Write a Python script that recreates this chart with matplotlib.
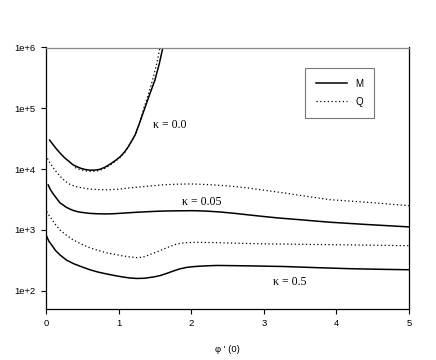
import matplotlib
matplotlib.use("Agg")
import matplotlib.pyplot as plt
from matplotlib.lines import Line2D

# kappa = 0.0
x_k0_M = [0.05, 0.10, 0.15, 0.20, 0.26, 0.32, 0.37, 0.43, 0.49, 0.55, 0.61, 0.68, 0.74, 0.81, 0.88, 0.95, 1.02, 1.08, 1.13, 1.18, 1.23, 1.29, 1.36, 1.43, 1.50, 1.56, 1.61]
y_k0_M = [30000, 25000, 21000, 18000, 15200, 13300, 11800, 10900, 10200, 9800, 9600, 9650, 9900, 10700, 12000, 13700, 15900, 19000, 23000, 29000, 37000, 58000, 100000, 172000, 290000, 540000, 1000000]
x_k0_Q = [0.40, 0.45, 0.50, 0.55, 0.61, 0.68, 0.74, 0.81, 0.88, 0.95, 1.02, 1.08, 1.13, 1.18, 1.23, 1.29, 1.35, 1.42, 1.48, 1.53, 1.57]
y_k0_Q = [10600, 10000, 9600, 9350, 9200, 9250, 9500, 10300, 11500, 13300, 15500, 18500, 23000, 29000, 37000, 58000, 102000, 185000, 330000, 580000, 1000000]

# kappa = 0.05
x_k005_M = [0.03, 0.06, 0.10, 0.15, 0.19, 0.24, 0.28, 0.33, 0.37, 0.43, 0.48, 0.6, 0.72, 0.83, 0.95, 1.1, 1.25, 1.43, 1.6, 1.8, 2.03, 2.2, 2.4, 2.6, 2.8, 3.0, 3.2, 3.5, 3.9, 4.4, 5.0]
y_k005_M = [5500, 4600, 3900, 3250, 2800, 2550, 2350, 2200, 2100, 2000, 1950, 1870, 1840, 1830, 1850, 1900, 1950, 2000, 2040, 2060, 2070, 2040, 1970, 1870, 1760, 1660, 1570, 1470, 1340, 1230, 1120]
x_k005_Q = [0.02, 0.05, 0.10, 0.15, 0.20, 0.26, 0.32, 0.40, 0.50, 0.6, 0.72, 0.84, 1.02, 1.15, 1.3, 1.45, 1.6, 1.8, 2.0, 2.25, 2.5, 2.75, 3.0, 3.25, 3.5, 3.9, 4.5, 5.0]
y_k005_Q = [15000, 13000, 10500, 8800, 7500, 6400, 5700, 5200, 4900, 4700, 4600, 4560, 4700, 4900, 5100, 5300, 5500, 5650, 5700, 5550, 5300, 4950, 4500, 4100, 3700, 3150, 2800, 2500]

# kappa = 0.5
x_k05_M = [0.01, 0.04, 0.08, 0.13, 0.19, 0.28, 0.38, 0.5, 0.61, 0.72, 0.84, 0.95, 1.06, 1.15, 1.25, 1.35, 1.48, 1.57, 1.66, 1.75, 1.84, 1.94, 2.05, 2.2, 2.35, 2.6, 2.8, 3.27, 3.7, 4.19, 4.6, 5.0]
y_k05_M = [780, 650, 560, 460, 390, 320, 278, 245, 220, 202, 188, 177, 168, 162, 159, 160, 168, 177, 192, 210, 228, 242, 250, 256, 260, 258, 256, 250, 240, 230, 225, 221]
x_k05_Q = [0.01, 0.04, 0.08, 0.13, 0.19, 0.28, 0.37, 0.48, 0.6, 0.72, 0.83, 0.95, 1.05, 1.15, 1.25, 1.33, 1.4, 1.47, 1.54, 1.62, 1.7, 1.8, 1.89, 2.0, 2.1, 2.26, 2.6, 3.0, 3.5, 4.0, 4.5, 5.0]
y_k05_Q = [2000, 1750, 1500, 1230, 1000, 820, 690, 590, 510, 460, 420, 395, 375, 360, 350, 355, 380, 410, 440, 485, 530, 585, 610, 622, 625, 620, 605, 590, 580, 570, 560, 550]

kappa_labels = ["κ = 0.0", "κ = 0.05", "κ = 0.5"]
legend_labels = ["M", "Q"]
x_ticks = [0, 1, 2, 3, 4, 5]
y_ticks = [1e2, 1e3, 1e4, 1e5, 1e6]
y_tick_labels = ["1e+2", "1e+3", "1e+4", "1e+5", "1e+6"]

fig = plt.figure(figsize=(4.36, 3.60), dpi=100)
ax = fig.add_axes([46/436, 1 - 309/360, 363/436, 261.5/360])

lw = 1.1
dot = (0, (1, 2))
ax.plot(x_k0_M, y_k0_M, color="black", lw=lw)
ax.plot(x_k0_Q, y_k0_Q, color="black", lw=0.9, ls=dot)
ax.plot(x_k005_M, y_k005_M, color="black", lw=lw)
ax.plot(x_k005_Q, y_k005_Q, color="black", lw=0.9, ls=dot)
ax.plot(x_k05_M, y_k05_M, color="black", lw=lw)
ax.plot(x_k05_Q, y_k05_Q, color="black", lw=0.9, ls=dot)

ax.set_yscale("log")
ax.set_xlim(0, 5)
ax.set_ylim(50, 1e6)
ax.set_xticks(x_ticks)
ax.set_xticklabels([str(t) for t in x_ticks])
ax.set_yticks(y_ticks)
ax.set_yticklabels(y_tick_labels)
ax.minorticks_off()
ax.tick_params(axis="both", direction="out", length=3.5, width=0.8, labelsize=6.8, pad=4)
for lab in ax.get_xticklabels() + ax.get_yticklabels():
    lab.set_family("Liberation Sans")

ax.spines["top"].set_color("#888888")
for s in ["left", "bottom", "right"]:
    ax.spines[s].set_color("black")
for s in ax.spines.values():
    s.set_linewidth(0.9)

ax.set_xlabel("φ ' (0)", fontsize=6.8, family="Liberation Sans", labelpad=12)

tkw = dict(fontsize=8.5, family="Liberation Serif", ha="center", va="center")
ax.text(1.71, 10**(2 + (291 - 125) / 60.8), kappa_labels[0], **tkw)
ax.text(2.15, 10**(2 + (291 - 202) / 60.8), kappa_labels[1], **tkw)
ax.text(3.36, 10**(2 + (291 - 282) / 60.8), kappa_labels[2], **tkw)

handles = [Line2D([], [], color="black", lw=lw),
           Line2D([], [], color="black", lw=0.9, ls=dot)]
leg = ax.legend(handles, legend_labels, loc="upper left", bbox_to_anchor=(0.713, 0.922),
                frameon=True, fancybox=False, edgecolor="#555555",
                prop={"family": "Liberation Sans", "size": 7},
                handlelength=3.2, handletextpad=0.9, labelspacing=0.85,
                borderpad=1.1, borderaxespad=0)
leg.get_frame().set_linewidth(0.8)

fig.savefig("out.png", dpi=100)
